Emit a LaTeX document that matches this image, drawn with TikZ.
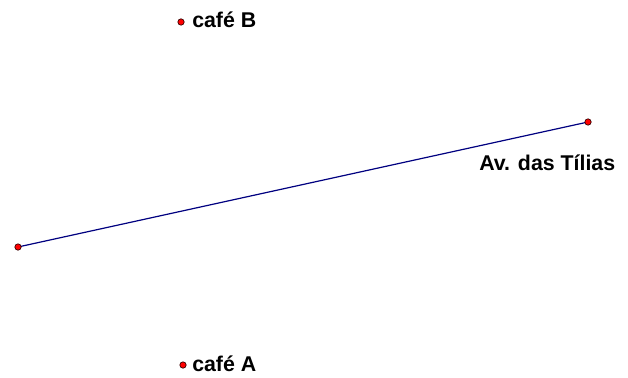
\documentclass[tikz,border=0pt]{standalone}
\usepackage{fontspec}
\setmainfont{Liberation Sans}
\tikzset{
  ponto/.style={circle, fill=red, draw=black!80!red, line width=0.5pt, minimum size=4.8pt, inner sep=0pt},
  rotulo/.style={font=\bfseries\fontsize{16}{18}\selectfont, inner sep=0pt, anchor=base west},
  rua/.style={draw={rgb,255:red,0;green,0;blue,128}, line width=0.9pt}
}
\begin{document}
\begin{tikzpicture}[x=0.75pt, y=-0.75pt]
    \useasboundingbox (0,0) rectangle (628,378);

    % Avenida
    \coordinate (ruaO) at (18,247);
    \coordinate (ruaL) at (588,122);
    \draw[rua] (ruaO) -- (ruaL);
    \node[ponto] (pO) at (ruaO) {};
    \node[ponto] (pL) at (ruaL) {};
    \node[rotulo] (labRua) at (479,170) {Av. das Tílias};

    % Cafes
    \node[ponto] (cafeB) at (181,22) {};
    \node[rotulo] (labB) at (192,28) {café B};
    \node[ponto] (cafeA) at (183,365) {};
    \node[rotulo] (labA) at (192,371) {café A};
\end{tikzpicture}
\end{document}
